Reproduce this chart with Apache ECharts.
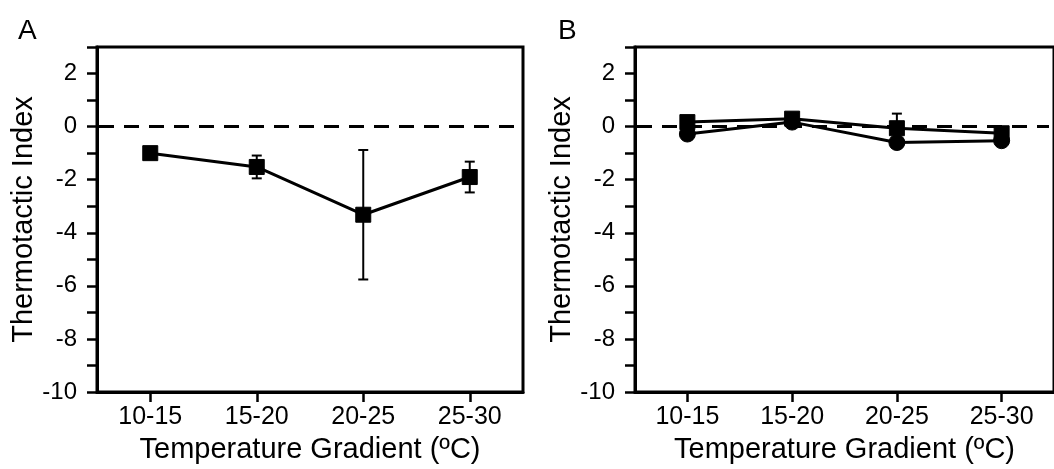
<!DOCTYPE html>
<html>
<head>
<meta charset="utf-8">
<script src="https://cdn.jsdelivr.net/npm/echarts@6/dist/echarts.min.js"></script>
<style>
html,body{margin:0;padding:0;background:#fff;}
#chart{width:1054px;height:469px;}
</style>
</head>
<body>
<div id="chart"></div>
<script>
const categories = ['10-15', '15-20', '20-25', '25-30'];
// Panel A
const aValues = [-1.0, -1.52, -3.32, -1.9];
const aErrors = [0.05, 0.43, 2.44, 0.58];
// Panel B
const bSquareValues = [0.17, 0.3, -0.06, -0.25];
const bSquareErrors = [0.05, 0.05, 0.55, 0.05];
const bCircleValues = [-0.28, 0.17, -0.6, -0.53];
const bCircleErrors = [0.05, 0.05, 0.05, 0.05];
const referenceLine = [0];
const panelTitles = ['A', 'B'];
const yAxisName = 'Thermotactic Index';
const xAxisName = 'Temperature Gradient (ºC)';

const FONT = 'Liberation Sans, Arial, Helvetica, sans-serif';

function errorSeries(vals, errs, gi) {
  return {
    type: 'custom',
    xAxisIndex: gi, yAxisIndex: gi,
    silent: true,
    z: 3,
    data: vals.map((v, i) => [i, v, errs[i]]),
    renderItem: function (params, api) {
      const x = api.value(0), v = api.value(1), e = api.value(2);
      const hi = api.coord([x, v + e]);
      const lo = api.coord([x, v - e]);
      const hw = 5;
      const st = { stroke: '#000', lineWidth: 2 };
      return {
        type: 'group',
        children: [
          { type: 'line', shape: { x1: hi[0], y1: hi[1], x2: lo[0], y2: lo[1] }, style: st },
          { type: 'line', shape: { x1: hi[0] - hw, y1: hi[1], x2: hi[0] + hw, y2: hi[1] }, style: st },
          { type: 'line', shape: { x1: lo[0] - hw, y1: lo[1], x2: lo[0] + hw, y2: lo[1] }, style: st }
        ]
      };
    }
  };
}
function zeroSeries(gi) {
  return {
    type: 'custom',
    xAxisIndex: gi, yAxisIndex: gi,
    silent: true,
    z: 2,
    data: referenceLine.map(v => [0, v]),
    renderItem: function (params, api) {
      const cs = params.coordSys;
      const p = api.coord([0, api.value(1)]);
      return {
        type: 'line',
        shape: { x1: cs.x + 2, y1: p[1], x2: cs.x + cs.width - 5, y2: p[1] },
        style: { stroke: '#000', lineWidth: 3, lineDash: [15, 10] }
      };
    }
  };
}
function lineSeries(vals, gi, symbol, size) {
  return {
    type: 'line',
    xAxisIndex: gi, yAxisIndex: gi,
    data: vals,
    symbol: symbol,
    symbolSize: size,
    showAllSymbol: true,
    z: 4,
    lineStyle: { color: '#000', width: 3 },
    itemStyle: { color: '#000', borderColor: '#000' }
  };
}
function xAxis(gi) {
  return {
    type: 'category',
    gridIndex: gi,
    data: categories,
    boundaryGap: true,
    axisLine: { show: true, onZero: false, lineStyle: { color: '#000', width: 3 } },
    axisTick: { show: true, alignWithLabel: true, length: 10, lineStyle: { color: '#000', width: 2.5 } },
    axisLabel: { color: '#000', fontSize: 25, fontFamily: FONT, margin: 13 },
    splitLine: { show: false },
    name: xAxisName,
    nameLocation: 'middle',
    nameGap: 43,
    nameTextStyle: { color: '#000', fontSize: 29, fontFamily: FONT }
  };
}
function yAxis(gi) {
  return {
    type: 'value',
    gridIndex: gi,
    min: -10, max: 3, interval: 1,
    axisLine: { show: true, onZero: false, lineStyle: { color: '#000', width: 3 } },
    axisTick: { show: true, length: 10, lineStyle: { color: '#000', width: 2.5 } },
    axisLabel: {
      color: '#000', fontSize: 24, fontFamily: FONT, margin: 20,
      formatter: v => (v % 2 === 0 ? String(v) : '')
    },
    splitLine: { show: false },
    name: yAxisName,
    nameLocation: 'middle',
    nameGap: 56,
    nameRotate: 90,
    nameTextStyle: { color: '#000', fontSize: 29, fontFamily: FONT }
  };
}

const chart = echarts.init(document.getElementById('chart'), null, { renderer: 'canvas' });
chart.setOption({
  animation: false,
  backgroundColor: '#fff',
  title: [
    { text: panelTitles[0], left: 13, top: 12, textStyle: { fontSize: 28, fontWeight: 'normal', color: '#000', fontFamily: FONT } },
    { text: panelTitles[1], left: 553, top: 12, textStyle: { fontSize: 28, fontWeight: 'normal', color: '#000', fontFamily: FONT } }
  ],
  grid: [
    { left: 97, top: 47, width: 426, height: 345, show: true, borderColor: '#000', borderWidth: 3, backgroundColor: 'transparent' },
    { left: 635, top: 47, width: 426, height: 345, show: true, borderColor: '#000', borderWidth: 3, backgroundColor: 'transparent' }
  ],
  xAxis: [xAxis(0), xAxis(1)],
  yAxis: [yAxis(0), yAxis(1)],
  series: [
    zeroSeries(0),
    errorSeries(aValues, aErrors, 0),
    lineSeries(aValues, 0, 'rect', 15),
    zeroSeries(1),
    errorSeries(bCircleValues, bCircleErrors, 1),
    lineSeries(bCircleValues, 1, 'circle', 16),
    errorSeries(bSquareValues, bSquareErrors, 1),
    lineSeries(bSquareValues, 1, 'rect', 15)
  ]
});
</script>
</body>
</html>
